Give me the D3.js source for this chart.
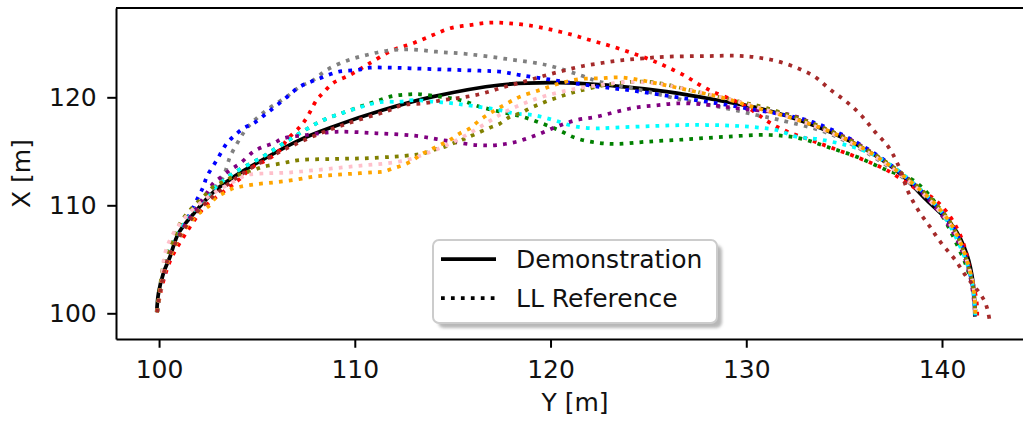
<!DOCTYPE html>
<html>
<head>
<meta charset="UTF-8">
<title>Demonstration vs LL Reference</title>
<style>
  body { margin: 0; background: #fff; }
  svg { display: block; font-family: "DejaVu Sans", sans-serif; }
</style>
</head>
<body>
<svg width="1023" height="422"></svg>
<script src="https://cdn.jsdelivr.net/npm/d3@7"></script>
<script>
// points are [Y, X] in metres (Y horizontal, X vertical)
const demo = [[99.88,100.1],[99.97,101.85],[100.22,103.7],[100.56,105.24],[100.99,107.4],[101.93,109.57],[102.76,111.2],[103.63,112.4],[104.65,113.55],[107.2,116.06],[108.89,117.28],[111.44,118.82],[114.0,120.06],[117.42,121.14],[120.31,121.35],[123.38,121.04],[125.93,120.52],[128.48,119.75],[131.04,118.82],[134.44,116.67],[136.14,115.12],[137.84,112.96],[139.21,110.49],[140.57,108.02],[141.25,105.56],[141.59,102.78],[141.68,99.69]];

const red = [[99.9,100.1],[100.15,102.5],[100.6,105],[101.4,107.5],[102.3,109.8],[102.86,110.68],[103.63,111.72],[104.1,112.4],[104.8,113.57],[105.5,114.19],[106.18,115.12],[106.52,116.05],[107.2,117.28],[107.54,118.08],[108.05,119.75],[108.38,120.4],[108.89,121.32],[109.75,122.06],[110.61,122.99],[111.95,124.38],[112.97,125.0],[113.99,125.77],[114.86,126.39],[115.88,126.69],[116.9,126.91],[117.93,126.85],[119.1,126.6],[120.12,126.23],[121.14,125.77],[122.01,125.3],[123.19,124.69],[124.91,123.61],[125.93,122.83],[126.95,121.91],[127.63,121.14],[128.29,120.52],[129.32,119.75],[130.01,119.13],[131.55,117.28],[133.74,115.74],[135.8,114.35],[137.16,113.27],[138.51,111.72],[139.53,110.68],[140.23,109.41],[140.81,107.71],[141.17,106.05],[141.42,104.0],[141.76,101.23],[141.8,99.8]];

const gray = [[99.9,100.1],[100.1,102.5],[100.5,105],[101.2,107.5],[102.2,110],[102.8,111.5],[103.28,112.65],[103.63,114.5],[104.14,116.2],[104.48,117.13],[104.99,118.06],[105.5,118.82],[106.52,120.06],[107.2,120.98],[107.88,121.6],[108.56,122.53],[109.59,123.39],[110.61,123.92],[111.63,124.31],[112.82,124.43],[114.18,124.22],[115.71,124.01],[117.76,123.55],[119.8,122.99],[121.5,122.06],[122.52,121.44],[124.21,120.83],[126.76,119.75],[128.99,118.98],[130.52,118.36],[131.71,117.9],[134.42,116.5],[137.84,112.8],[140.4,108.2],[141.5,103.1],[141.7,99.8]];

const blue = [[99.9,100.1],[100.1,102.5],[100.5,105],[101.1,107.5],[101.6,109.3],[102.01,110.8],[102.26,111.72],[102.44,112.65],[102.95,114.19],[103.46,115.74],[103.79,116.35],[104.31,117.13],[104.82,117.59],[105.5,118.52],[106.35,119.75],[107.2,120.98],[108.22,121.76],[109.16,122.37],[110.1,122.53],[110.78,122.74],[111.8,122.74],[112.82,122.69],[114.35,122.59],[116.39,122.46],[117.42,122.37],[118.44,122.06],[120.12,121.6],[122.17,121.05],[124.21,120.61],[126.25,120.06],[127.97,119.59],[130.01,118.98],[133.4,117.7],[136.3,115.1],[138.9,111.4],[140.65,107.7],[141.5,103.1],[141.7,99.8]];

const green = [[99.9,100.1],[100.1,102.5],[100.4,105],[101.0,107.5],[102.0,110],[103.5,112.6],[105.3,114.5],[106.5,115.9],[107.46,116.97],[108.39,117.9],[109.33,118.52],[110.27,119.13],[110.78,119.44],[111.29,119.75],[111.8,120.06],[112.31,120.21],[112.82,120.28],[113.33,120.28],[114.35,120.06],[115.37,119.75],[116.39,119.13],[117.42,118.67],[118.44,118.27],[119.46,117.65],[120.48,116.91],[121.33,116.2],[122.35,115.8],[123.38,115.68],[124.91,115.89],[126.95,116.11],[128.99,116.35],[131.2,116.51],[132.74,116.2],[134.1,115.43],[135.63,114.5],[137.16,113.27],[138.51,112.34],[139.55,110.49],[140.14,108.64],[140.65,106.8],[141.32,104.0],[141.68,101.23],[141.7,99.8]];

const cyan = [[99.9,100.1],[100.1,102.5],[100.4,105],[101.0,107.5],[102.0,110],[103.5,112.6],[105.3,114.5],[106.5,115.9],[107.46,116.97],[108.39,117.9],[109.33,118.52],[110.35,119.13],[111.29,119.56],[112.31,119.59],[112.99,119.75],[114.01,119.59],[115.03,119.44],[116.05,119.19],[117.42,118.82],[118.09,118.52],[119.11,118.36],[120.14,117.9],[121.16,117.34],[122.18,117.13],[123.2,117.19],[125.25,117.34],[127.29,117.44],[129.33,117.37],[130.52,117.22],[131.55,116.97],[132.57,116.35],[133.76,116.1],[135.8,115.2],[136.98,114.19],[138.36,112.34],[139.89,109.57],[140.9,106.3],[141.52,103.08],[141.7,99.8]];

const purple = [[99.9,100.1],[100.1,102.5],[100.5,105],[101.1,107.5],[102.0,110],[102.5,111.3],[102.77,112.04],[103.2,112.65],[103.63,113.27],[104.14,113.89],[104.82,114.96],[105.33,115.43],[105.84,115.74],[106.35,116.2],[107.54,116.51],[109.07,116.81],[111.12,116.67],[113.16,116.42],[114.69,115.98],[116.22,115.58],[117.24,115.58],[118.27,115.89],[119.29,116.51],[120.31,117.28],[121.33,117.9],[122.35,118.2],[123.38,118.67],[124.4,119.07],[125.42,119.26],[126.44,119.44],[127.63,119.38],[128.65,119.19],[130.01,118.89],[131.55,118.6],[132.57,118.2],[133.93,117.13],[135.3,116.1],[137.33,113.72],[139.1,110.95],[140.65,107.25],[141.42,103.55],[141.7,99.8]];

const olive = [[99.9,100.1],[100.05,102.5],[100.3,105],[100.73,106.8],[101.07,108.33],[101.6,109.6],[102.44,111.11],[102.77,111.72],[103.28,112.19],[103.79,112.65],[104.31,112.96],[104.82,113.27],[105.33,113.57],[106.27,113.89],[107.2,114.19],[108.9,114.29],[110.43,114.35],[111.97,114.5],[112.99,114.66],[113.5,114.81],[114.01,115.12],[114.52,115.37],[115.03,115.74],[115.54,116.11],[116.05,116.51],[116.9,117.19],[117.42,117.57],[117.93,118.2],[118.44,118.52],[118.95,118.98],[119.46,119.38],[119.97,119.75],[120.48,120.06],[120.99,120.37],[121.5,120.61],[122.52,121.05],[123.38,121.3],[124.22,121.44],[124.91,121.44],[125.59,121.3],[126.95,120.74],[128.31,120.15],[129.67,119.59],[131.04,119.0],[134.42,116.8],[137.84,113.1],[140.4,108.5],[141.52,103.1],[141.7,99.8]];

const pink = [[99.9,100.1],[100.1,102.5],[100.3,105.5],[100.7,107.3],[101.4,109],[102.3,110.5],[103.2,111.6],[103.97,112.34],[104.48,112.8],[105.5,112.96],[106.52,113.02],[107.54,113.18],[108.56,113.36],[109.59,113.55],[110.61,113.73],[111.63,113.89],[112.65,114.19],[113.67,114.81],[114.6,115.5],[115.62,116.42],[116.65,117.53],[117.67,118.64],[118.69,119.47],[119.71,120.12],[120.99,120.68],[122.52,121.14],[124.05,121.42],[125.59,121.23],[127.12,120.68],[128.65,120.03],[130.18,119.29],[134.44,116.6],[137.84,112.9],[140.5,108.0],[141.55,103.0],[141.7,99.8]];

const orange = [[99.9,100.1],[100.1,102.5],[100.5,105],[101.2,107.5],[102.0,109.2],[102.6,110.03],[102.86,110.65],[103.28,111.11],[103.79,111.57],[104.14,111.72],[104.82,111.93],[105.84,112.11],[106.86,112.34],[107.88,112.65],[108.9,112.81],[109.92,112.93],[110.94,113.06],[111.46,113.11],[111.97,113.43],[112.48,113.73],[112.99,114.19],[113.33,114.66],[113.84,115.12],[114.35,115.58],[114.86,116.05],[115.37,116.67],[115.88,117.13],[116.39,117.9],[116.9,118.52],[117.42,119.07],[117.93,119.59],[118.44,120.06],[119.46,120.68],[120.48,121.3],[121.5,121.69],[122.52,121.76],[123.54,121.85],[124.57,121.6],[125.59,121.23],[127.12,120.63],[128.65,120.03],[130.01,119.29],[134.44,116.7],[137.84,113.0],[140.45,108.3],[141.55,103.0],[141.7,99.8]];

const brown = [[99.9,100.1],[100.1,102.5],[100.45,105],[101.1,107.3],[102.0,109.5],[103.7,112.2],[105.5,114.3],[107.5,116.1],[109.5,117.5],[111.6,118.7],[112.48,119.29],[113.5,119.44],[114.52,119.75],[115.54,120.0],[116.56,120.37],[117.58,120.93],[118.61,121.44],[119.63,121.97],[120.65,122.46],[121.67,122.9],[122.69,123.2],[123.71,123.45],[124.73,123.61],[125.93,123.76],[127.97,123.82],[129.5,123.85],[130.52,123.7],[131.55,123.36],[132.57,122.74],[133.5,121.91],[134.27,120.74],[135.12,119.59],[135.89,118.3],[136.57,116.81],[137.25,115.43],[137.76,113.73],[138.27,111.26],[138.78,109.56],[139.38,108.02],[139.97,106.48],[140.65,105.0],[141.25,103.39],[141.93,101.85],[142.19,101.07],[142.35,100.15],[142.44,99.22]];

const references = [
    { color: "red", pts: red },
    { color: "gray", pts: gray },
    { color: "blue", pts: blue },
    { color: "green", pts: green },
    { color: "cyan", pts: cyan },
    { color: "purple", pts: purple },
    { color: "olive", pts: olive },
    { color: "pink", pts: pink },
    { color: "orange", pts: orange },
    { color: "brown", pts: brown }
];

const xTicks = [100, 110, 120, 130, 140];
const yTicks = [100, 110, 120];

const svg = d3.select("svg"),
    plotL = 116, plotR = 1034, plotT = 8, plotB = 339,
    x = d3.scaleLinear().domain([97.8, 144.7]).range([plotL, plotR]),
    y = d3.scaleLinear().domain([97.62, 128.27]).range([plotB, plotT]),
    lw = 3.75;

svg.append("clipPath").attr("id", "plot")
    .append("rect")
    .attr("x", plotL).attr("y", plotT)
    .attr("width", plotR - plotL).attr("height", plotB - plotT);

const line = d3.line()
    .x(d => x(d[0]))
    .y(d => y(d[1]))
    .curve(d3.curveCatmullRom);

const plot = svg.append("g").attr("clip-path", "url(#plot)");

plot.append("path")
    .attr("d", line(demo))
    .attr("fill", "none")
    .attr("stroke", "black")
    .attr("stroke-width", lw);

plot.selectAll(".ref")
    .data(references)
    .enter().append("path")
    .attr("class", "ref")
    .attr("d", d => line(d.pts))
    .attr("fill", "none")
    .attr("stroke", d => d.color)
    .attr("stroke-width", lw)
    .attr("stroke-dasharray", "3.75,6.2");

// axes
const xAxis = svg.append("g")
    .attr("transform", `translate(0,${plotB})`)
    .call(d3.axisBottom(x).tickValues(xTicks).tickSize(8.75).tickPadding(12.5).tickSizeOuter(0));
const yAxis = svg.append("g")
    .attr("transform", `translate(${plotL},0)`)
    .call(d3.axisLeft(y).tickValues(yTicks).tickSize(8.75).tickPadding(10.5).tickSizeOuter(0));

[xAxis, yAxis].forEach(a => {
    a.select(".domain").attr("stroke", "black").attr("stroke-width", 2);
    a.selectAll(".tick line").attr("stroke", "black").attr("stroke-width", 2);
    a.selectAll(".tick text")
        .attr("fill", "#111")
        .style("font-size", "25px")
        .style("font-family", "DejaVu Sans");
});

// top spine
svg.append("line")
    .attr("x1", plotL).attr("x2", plotR)
    .attr("y1", plotT).attr("y2", plotT)
    .attr("stroke", "black").attr("stroke-width", 2);

svg.append("text")
    .attr("x", (plotL + plotR) / 2)
    .attr("y", 411)
    .attr("text-anchor", "middle")
    .attr("fill", "#111")
    .style("font-size", "25px")
    .text("Y [m]");

svg.append("text")
    .attr("transform", `translate(30,${(plotT + plotB) / 2}) rotate(-90)`)
    .attr("text-anchor", "middle")
    .attr("fill", "#111")
    .style("font-size", "25px")
    .text("X [m]");

// legend
const defs = svg.append("defs");
defs.append("filter").attr("id", "blur")
    .append("feGaussianBlur").attr("stdDeviation", 1.5);

const lg = svg.append("g").attr("transform", "translate(433,240)");
lg.append("rect")
    .attr("x", 5).attr("y", 5)
    .attr("width", 284).attr("height", 83)
    .attr("rx", 6)
    .attr("fill", "#888")
    .attr("opacity", 0.6)
    .attr("filter", "url(#blur)");
lg.append("rect")
    .attr("width", 284).attr("height", 83)
    .attr("rx", 6)
    .attr("fill", "white")
    .attr("stroke", "#cccccc")
    .attr("stroke-width", 2);

const items = [
    { label: "Demonstration", dash: null, y: 19 },
    { label: "LL Reference", dash: "3.75,6.2", y: 58 }
];
items.forEach(it => {
    lg.append("line")
        .attr("x1", 8).attr("x2", 63)
        .attr("y1", it.y).attr("y2", it.y)
        .attr("stroke", "black")
        .attr("stroke-width", lw)
        .attr("stroke-dasharray", it.dash);
    lg.append("text")
        .attr("x", 83).attr("y", it.y + 8.5)
        .attr("fill", "#111")
        .style("font-size", "25px")
        .text(it.label);
});
</script>
</body>
</html>
